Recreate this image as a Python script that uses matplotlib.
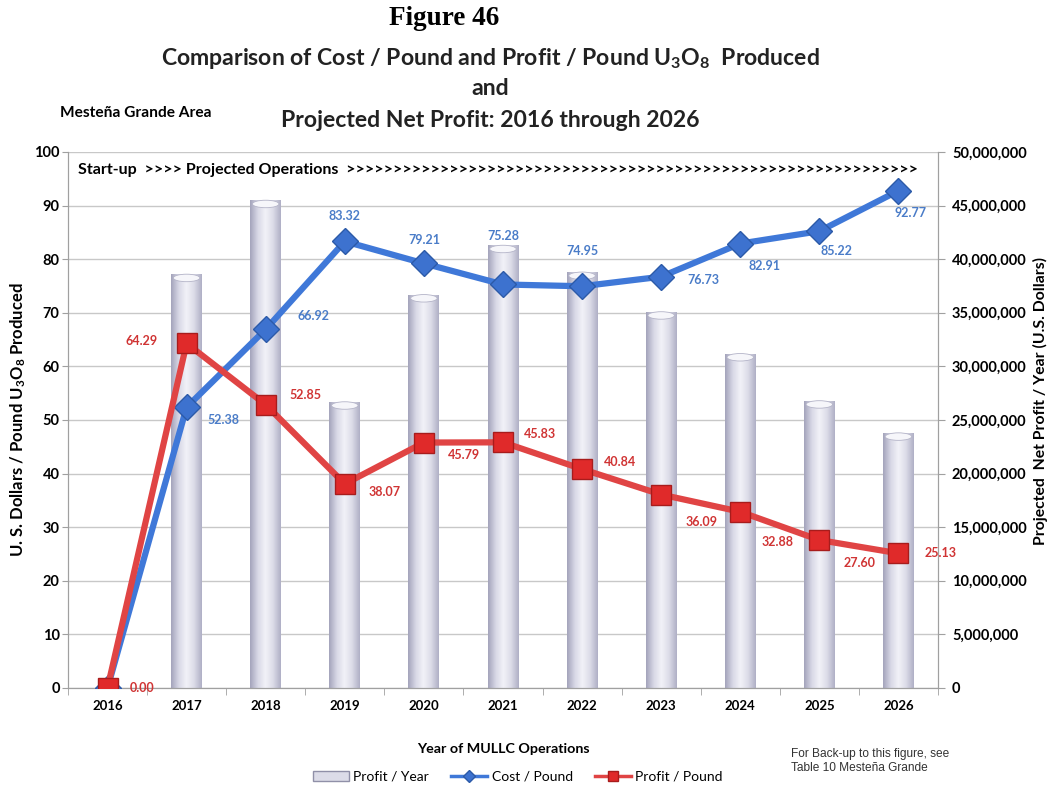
import numpy as np
import matplotlib.pyplot as plt
from matplotlib.colors import LinearSegmentedColormap
from matplotlib.patches import Patch, Ellipse
from matplotlib.lines import Line2D
from matplotlib.ticker import FuncFormatter, MultipleLocator

# Data
years = ['2016', '2017', '2018', '2019', '2020', '2021', '2022', '2023', '2024', '2025', '2026']
profit_year = [0, 38.6e6, 45.5e6, 26.7e6, 36.7e6, 41.3e6, 38.8e6, 35.1e6, 31.2e6, 26.8e6, 23.8e6]
cost_pound = [0.00, 52.38, 66.92, 83.32, 79.21, 75.28, 74.95, 76.73, 82.91, 85.22, 92.77]
profit_pound = [0.00, 64.29, 52.85, 38.07, 45.79, 45.83, 40.84, 36.09, 32.88, 27.60, 25.13]

# label offsets in pixels (dx, dy)
cost_offsets = [None, (37, -13), (48, 13), (0, 25), (0, 23), (0, 48), (0, 35),
                (42, -3), (24, -22), (17, -20), (12, -22)]
profit_offsets = [(35, 0), (-45, 2), (40, 10), (40, -8), (40, -12), (37, 8),
                  (38, 7), (40, -27), (37, -30), (40, -23), (42, 0)]

BLUE = '#3f78d8'
BLUE_TXT = '#4a7cc8'
RED = '#e04444'
RED_TXT = '#d03434'
GRID = '#c8c8c8'
SPINE = '#a0a0a0'

plt.rcParams['font.family'] = ['Lato', 'DejaVu Sans']
plt.rcParams['mathtext.default'] = 'regular'

fig = plt.figure(figsize=(10.57, 7.87), dpi=100)
ax = fig.add_axes([0.0643, 0.1258, 0.8231, 0.6811])
axl = ax.twinx()

x = np.arange(len(years))

# bars (right axis) with a cylinder-like gradient
bars = ax.bar(x, profit_year, width=0.39, color='none', edgecolor='none', zorder=2)
cmap = LinearSegmentedColormap.from_list('cyl', ['#a4a4bc', '#d8d8e6', '#f2f2f8', '#dcdce8', '#b0b0c6'])
grad = np.linspace(0, 1, 64).reshape(1, -1)
for b in bars:
    if b.get_height() <= 0:
        continue
    im = ax.imshow(grad, cmap=cmap, aspect='auto', zorder=2,
                   extent=[b.get_x(), b.get_x() + b.get_width(), 0, b.get_height()])
    im.set_clip_path(b)
    # hollow top of the cylinder
    ax.add_patch(Ellipse((b.get_x() + b.get_width() / 2, b.get_height() - 0.35e6),
                         b.get_width() * 0.86, 0.7e6, facecolor='#f6f6fa',
                         edgecolor='#b4b4c8', linewidth=0.6, zorder=2.5))

ax.set_xlim(-0.5, len(years) - 0.5)
ax.set_ylim(0, 50e6)
ax.yaxis.tick_right()
ax.yaxis.set_label_position('right')
ax.yaxis.set_major_locator(MultipleLocator(5e6))
ax.yaxis.set_major_formatter(FuncFormatter(lambda v, p: f'{v:,.0f}'))
ax.grid(axis='y', color=GRID, linewidth=1.0, zorder=0)
ax.set_axisbelow(True)

# lines (left axis)
axl.plot(x, cost_pound, color=BLUE, linewidth=4.5, marker='D', markersize=13,
         markerfacecolor='#3d72cf', markeredgecolor='#2c5aa8', zorder=3)
axl.plot(x, profit_pound, color=RED, linewidth=4.5, marker='s', markersize=15,
         markerfacecolor='#e02a2a', markeredgecolor='#a81c1c', zorder=4)
axl.yaxis.tick_left()
axl.yaxis.set_label_position('left')
axl.set_ylim(0, 100)
axl.yaxis.set_major_locator(MultipleLocator(10))
axl.set_xlim(-0.5, len(years) - 0.5)

for i, v in enumerate(cost_pound):
    if cost_offsets[i] is None:
        continue
    axl.annotate(f'{v:.2f}', (x[i], v), xytext=cost_offsets[i], textcoords='offset pixels',
                 ha='center', va='center', color=BLUE_TXT, fontsize=9, fontweight='bold', zorder=6)
for i, v in enumerate(profit_pound):
    axl.annotate(f'{v:.2f}', (x[i], v), xytext=profit_offsets[i], textcoords='offset pixels',
                 ha='center', va='center', color=RED_TXT, fontsize=9, fontweight='bold', zorder=6)

# axis styling
for a in (ax, axl):
    for s in a.spines.values():
        s.set_color(SPINE)
    a.spines['top'].set_visible(False)
ax.set_xticks(x)
ax.set_xticklabels(years, fontsize=9.5, fontweight='bold')
ax.set_xticks(np.arange(-0.5, len(years)), minor=True)
ax.tick_params(axis='x', which='major', length=0, pad=9)
ax.tick_params(axis='x', which='minor', length=5, color=SPINE)
ax.tick_params(axis='y', length=5, color=SPINE, labelsize=10.5, pad=5)
axl.tick_params(axis='y', length=4, color=SPINE, labelsize=10.5, pad=2)
for lab in ax.get_yticklabels() + axl.get_yticklabels():
    lab.set_fontweight('bold')

ax.set_ylabel('Projected  Net Profit / Year (U.S. Dollars)', fontsize=11.3, fontweight='bold')
ax.yaxis.set_label_coords(1.109, 0.535)
axl.set_ylabel('U. S. Dollars / Pound U$_3$O$_8$ Produced', fontsize=12, fontweight='bold')
axl.yaxis.set_label_coords(-0.046, 0.50)
ax.set_xlabel('Year of MULLC Operations', fontsize=10.3, fontweight='bold', labelpad=22)

axl.text(0.012, 0.966, 'Start-up  >>>> Projected Operations  ' + '>' * 61,
         transform=axl.transAxes, fontsize=11.5, fontweight='bold', va='center', ha='left', zorder=6)

# titles
fig.text(0.42, 0.977, 'Figure 46', family='Liberation Serif', fontsize=19.5, fontweight='bold',
         ha='center', va='center')
fig.text(0.4636, 0.926, 'Comparison of Cost / Pound and Profit / Pound U$_3$O$_8$  Produced',
         fontsize=16.6, fontweight='bold', ha='center', va='center', color='#222222')
fig.text(0.4636, 0.888, 'and', fontsize=16.6, fontweight='bold', ha='center', va='center', color='#222222')
fig.text(0.4636, 0.847, 'Projected Net Profit: 2016 through 2026', fontsize=16.6, fontweight='bold',
         ha='center', va='center', color='#222222')
fig.text(0.057, 0.856, 'Mesteña Grande Area', fontsize=11.2, fontweight='bold', ha='left', va='center')

# legend
handles = [Patch(facecolor='#dcdce8', edgecolor='#9090a8', label='Profit / Year'),
           Line2D([0], [0], color=BLUE, lw=2.5, marker='D', markersize=6,
                  markerfacecolor='#3d72cf', markeredgecolor='#2c5aa8', label='Cost / Pound'),
           Line2D([0], [0], color=RED, lw=2.5, marker='s', markersize=7,
                  markerfacecolor='#e02a2a', markeredgecolor='#a81c1c', label='Profit / Pound')]
fig.legend(handles=handles, loc='center', bbox_to_anchor=(0.49, 0.013), ncol=3, frameon=False,
           fontsize=10, handlelength=2.6, columnspacing=1.6, handletextpad=0.3)

fig.text(0.748, 0.042, 'For Back-up to this figure, see', family='Liberation Sans',
         fontsize=8.6, ha='left', va='center', color='#333333')
fig.text(0.748, 0.024, 'Table 10 Mesteña Grande', family='Liberation Sans',
         fontsize=8.6, ha='left', va='center', color='#333333')

fig.savefig('out.png', dpi=100)
